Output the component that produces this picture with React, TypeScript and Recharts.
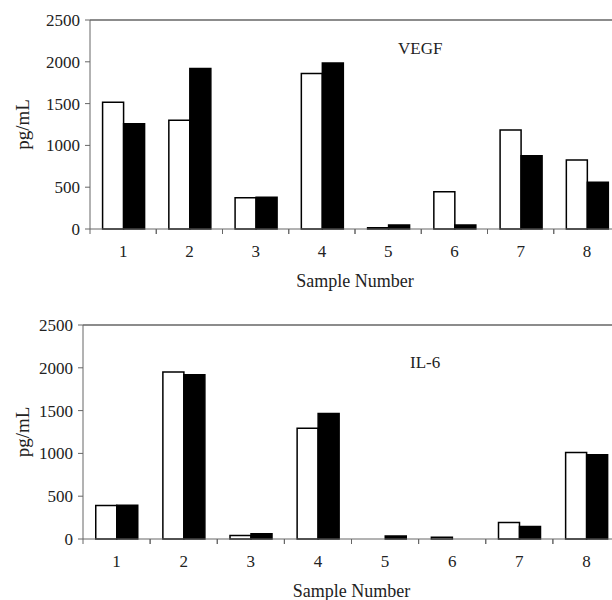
import React from 'react';
import { BarChart, Bar, XAxis, YAxis, ReferenceLine } from 'recharts';

const samples = ['1', '2', '3', '4', '5', '6', '7', '8'];
const vegfOpen = [1515, 1300, 375, 1860, 15, 445, 1185, 825];
const vegfSolid = [1260, 1920, 380, 1985, 48, 48, 875, 560];
const il6Open = [392, 1950, 42, 1295, 0, 20, 194, 1010];
const il6Solid = [395, 1920, 62, 1466, 35, 0, 147, 984];
const yTicks = [0, 500, 1000, 1500, 2000, 2500];

const FONT = '"Liberation Serif", "Times New Roman", serif';
const AXIS = '#666';
const TICK_SIZE = 5;
const TICK_MARGIN = 11;

// label at the band centre, tick mark at the band's left edge
const SampleTick = (props: any) => {
  const { x, y, payload } = props;
  const axisY = y - TICK_SIZE - TICK_MARGIN;
  const half = payload.offset || 0;
  return (
    <g>
      <line x1={x - half} x2={x - half} y1={axisY} y2={axisY + TICK_SIZE} stroke={AXIS} />
      <line x1={x + half} x2={x + half} y1={axisY} y2={axisY + TICK_SIZE} stroke={AXIS} />
      <text x={x} y={y} dy="0.71em" textAnchor="middle" fill="#222" fontSize={17} fontFamily={FONT}>
        {payload.value}
      </text>
    </g>
  );
};

interface PanelProps {
  title: string;
  open: number[];
  solid: number[];
  axisWidth: number;
  marginTop: number;
  marginBottom: number;
  titleLeft: number;
  titleTop: number;
}

const Panel: React.FC<PanelProps> = ({ title, open, solid, axisWidth, marginTop, marginBottom, titleLeft, titleTop }) => {
  const data = samples.map((s, i) => ({ sample: s, open: open[i], solid: solid[i] }));

  return (
    <div style={{ position: 'relative', width: 630, height: 300 }}>
      <BarChart
        width={630}
        height={300}
        data={data}
        margin={{ top: marginTop, right: 10, left: 0, bottom: marginBottom }}
        barCategoryGap="19%"
        barGap={0}
      >
        <XAxis
          dataKey="sample"
          height={61}
          stroke={AXIS}
          tickLine={false}
          tickSize={TICK_SIZE}
          tickMargin={TICK_MARGIN}
          tick={<SampleTick />}
          interval={0}
          label={{
            content: (props: any) => {
              const vb = props.viewBox;
              return (
                <text x={vb.x + vb.width / 2} y={vb.y + vb.height - 3} textAnchor="middle" fill="#222" fontSize={18} fontFamily={FONT}>
                  Sample Number
                </text>
              );
            },
          }}
        />
        <YAxis
          width={axisWidth}
          domain={[0, 2500]}
          ticks={yTicks}
          tickSize={5}
          tickMargin={5}
          stroke={AXIS}
          tick={{ fill: '#222', fontSize: 17, fontFamily: FONT }}
          label={{
            content: (props: any) => {
              const vb = props.viewBox;
              const cx = 29;
              const cy = vb.y + vb.height / 2;
              return (
                <text x={cx} y={cy} transform={`rotate(-90 ${cx} ${cy})`} textAnchor="middle" fill="#222" fontSize={19} fontFamily={FONT}>
                  pg/mL
                </text>
              );
            },
          }}
        />
        <ReferenceLine y={2500} stroke={AXIS} strokeWidth={1.5} />
        <Bar dataKey="open" fill="#fff" stroke="#000" strokeWidth={1.5} isAnimationActive={false} />
        <Bar dataKey="solid" fill="#000" stroke="#000" strokeWidth={1.5} isAnimationActive={false} />
      </BarChart>
      <div
        style={{
          position: 'absolute',
          left: titleLeft,
          top: titleTop,
          fontFamily: FONT,
          fontSize: 17,
          lineHeight: 1,
          color: '#222',
        }}
      >
        {title}
      </div>
    </div>
  );
};

export default function App() {
  return (
    <div style={{ position: 'absolute', left: 0, top: 0, width: 612, height: 600, overflow: 'hidden', background: '#fff' }}>
      <Panel title="VEGF" open={vegfOpen} solid={vegfSolid} axisWidth={90} marginTop={20} marginBottom={10} titleLeft={398} titleTop={40} />
      <Panel title="IL-6" open={il6Open} solid={il6Solid} axisWidth={83} marginTop={25} marginBottom={0} titleLeft={410} titleTop={54} />
    </div>
  );
}
